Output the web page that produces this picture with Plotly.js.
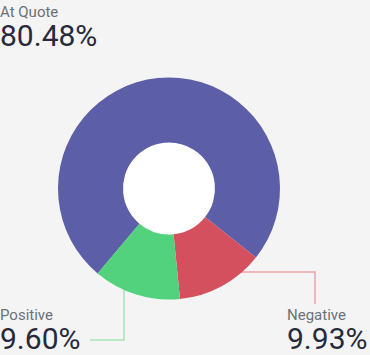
<!DOCTYPE html>
<html>
<head>
<meta charset="utf-8">
<script src="https://cdn.plot.ly/plotly-3.0.1.min.js"></script>
<style>
  html, body { margin: 0; padding: 0; background: #f4f4f4; }
  #chart { width: 370px; height: 355px; }
</style>
</head>
<body>
<div id="chart"></div>
<script>
// ---- data ----
const categories = ['At Quote', 'Negative', 'Positive'];
const percentLabels = ['80.48%', '9.93%', '9.60%'];
// slice sizes as drawn in the reference (angular share of the ring)
const sliceShares = [74.56, 12.75, 12.69];
const sliceColors = ['#5c5fa8', '#d4505e', '#52d27c'];

const W = 370, H = 355;
const px = x => x / W;
const py = y => 1 - y / H;

const cx = 169, cy = 188.5, R = 111, r = 46;

const trace = {
  type: 'pie',
  labels: categories,
  values: sliceShares,
  sort: false,
  direction: 'clockwise',
  rotation: 220,
  hole: r / R,
  textinfo: 'none',
  hoverinfo: 'label',
  showlegend: false,
  marker: { colors: sliceColors, line: { width: 0 } },
  domain: { x: [px(cx - R), px(cx + R)], y: [py(cy + R), py(cy - R)] }
};

const baseFont = { family: 'Roboto, sans-serif', size: 22, color: '#262a3b' };

function block(i) {
  return '<span style="font-size:15px;color:#6b7178">' + categories[i] + '</span><br>' +
         '<span style="font-size:30px;color:#262a3b">' + percentLabels[i] + '</span>';
}

function ann(i, x, y, yanchor, yshift) {
  return { text: block(i), x: px(x), y: py(y), xref: 'paper', yref: 'paper',
           xanchor: 'left', yanchor: yanchor, align: 'left', showarrow: false,
           font: baseFont, borderpad: 0, yshift: yshift || 0 };
}

const annotations = [
  ann(0, -1, 2, 'top'),
  ann(1, 286, 355, 'bottom', -2),
  ann(2, -1, 355, 'bottom', -2)
];

const shapes = [
  { type: 'circle', xref: 'paper', yref: 'paper', layer: 'below',
    x0: px(cx - r - 1), x1: px(cx + r + 1), y0: py(cy + r + 1), y1: py(cy - r - 1),
    fillcolor: '#ffffff', line: { width: 0 } },
  { type: 'path', xref: 'paper', yref: 'paper', layer: 'below',
    path: `M ${px(235)} ${py(272)} L ${px(315)} ${py(272)} L ${px(315)} ${py(304)}`,
    line: { color: '#e9a2ac', width: 1.5 } },
  { type: 'path', xref: 'paper', yref: 'paper', layer: 'below',
    path: `M ${px(124)} ${py(285)} L ${px(124)} ${py(340)} L ${px(90)} ${py(340)}`,
    line: { color: '#a4e4b9', width: 1.5 } }
];

const layout = {
  width: W, height: H,
  margin: { l: 0, r: 0, t: 0, b: 0 },
  paper_bgcolor: '#f4f4f4',
  plot_bgcolor: '#f4f4f4',
  annotations: annotations,
  shapes: shapes
};

Plotly.newPlot('chart', [trace], layout, { displayModeBar: false, staticPlot: true });
</script>
</body>
</html>
